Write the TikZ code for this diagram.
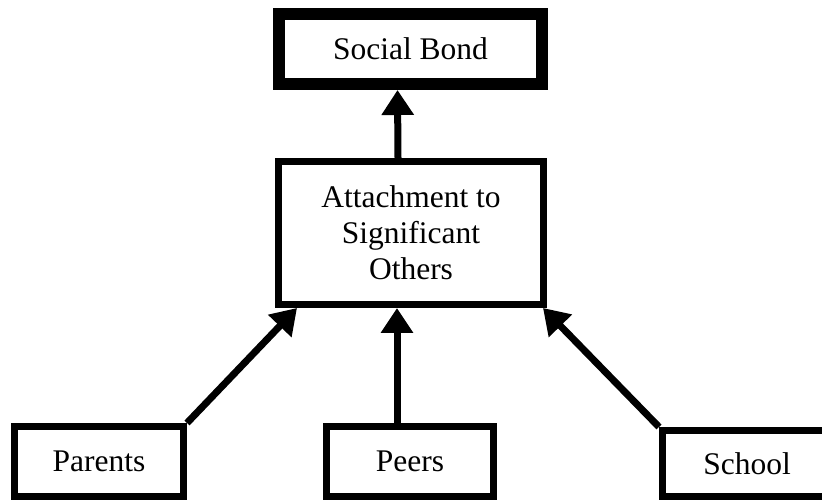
\documentclass[tikz,border=0pt]{standalone}
\usepackage{fontspec}
\setmainfont{Liberation Serif}
\usetikzlibrary{arrows.meta}
\begin{document}
\begin{tikzpicture}[x=1pt,y=1pt,
  box/.style={draw=black, line width=7pt, fill=white, inner sep=0pt,
    font=\fontsize{31.5pt}{36pt}\selectfont},
  conn/.style={line width=7pt, -{Triangle[length=25pt,width=31pt]}}]
\useasboundingbox (0,0) rectangle (822,502);
\clip (0,0) rectangle (822,502);
\fill[white] (0,0) rectangle (822,502);
\node[box, line width=12pt, minimum width=263pt, minimum height=70pt] (social) at (410.5,453) {Social Bond};
\node[box, minimum width=265pt, minimum height=143pt, align=center] (attach) at (411,269) {Attachment to\\Significant\\Others};
\node[box, minimum width=169pt, minimum height=70pt] (parents) at (99,40.5) {Parents};
\node[box, minimum width=167pt, minimum height=70pt] (peers) at (410,40.5) {Peers};
\node[box, minimum width=169pt, minimum height=66pt] (school) at (747,38.5) {School};
\draw[conn] ([xshift=-13pt]attach.north) -- ([xshift=-13pt]social.south);
\draw[conn] ([xshift=-13pt]peers.north) -- ([xshift=-14pt]attach.south);
\draw[conn] (parents.north east) -- ([xshift=22pt]attach.south west);
\draw[conn] (school.north west) -- ([xshift=-4pt]attach.south east);
\end{tikzpicture}
\end{document}
